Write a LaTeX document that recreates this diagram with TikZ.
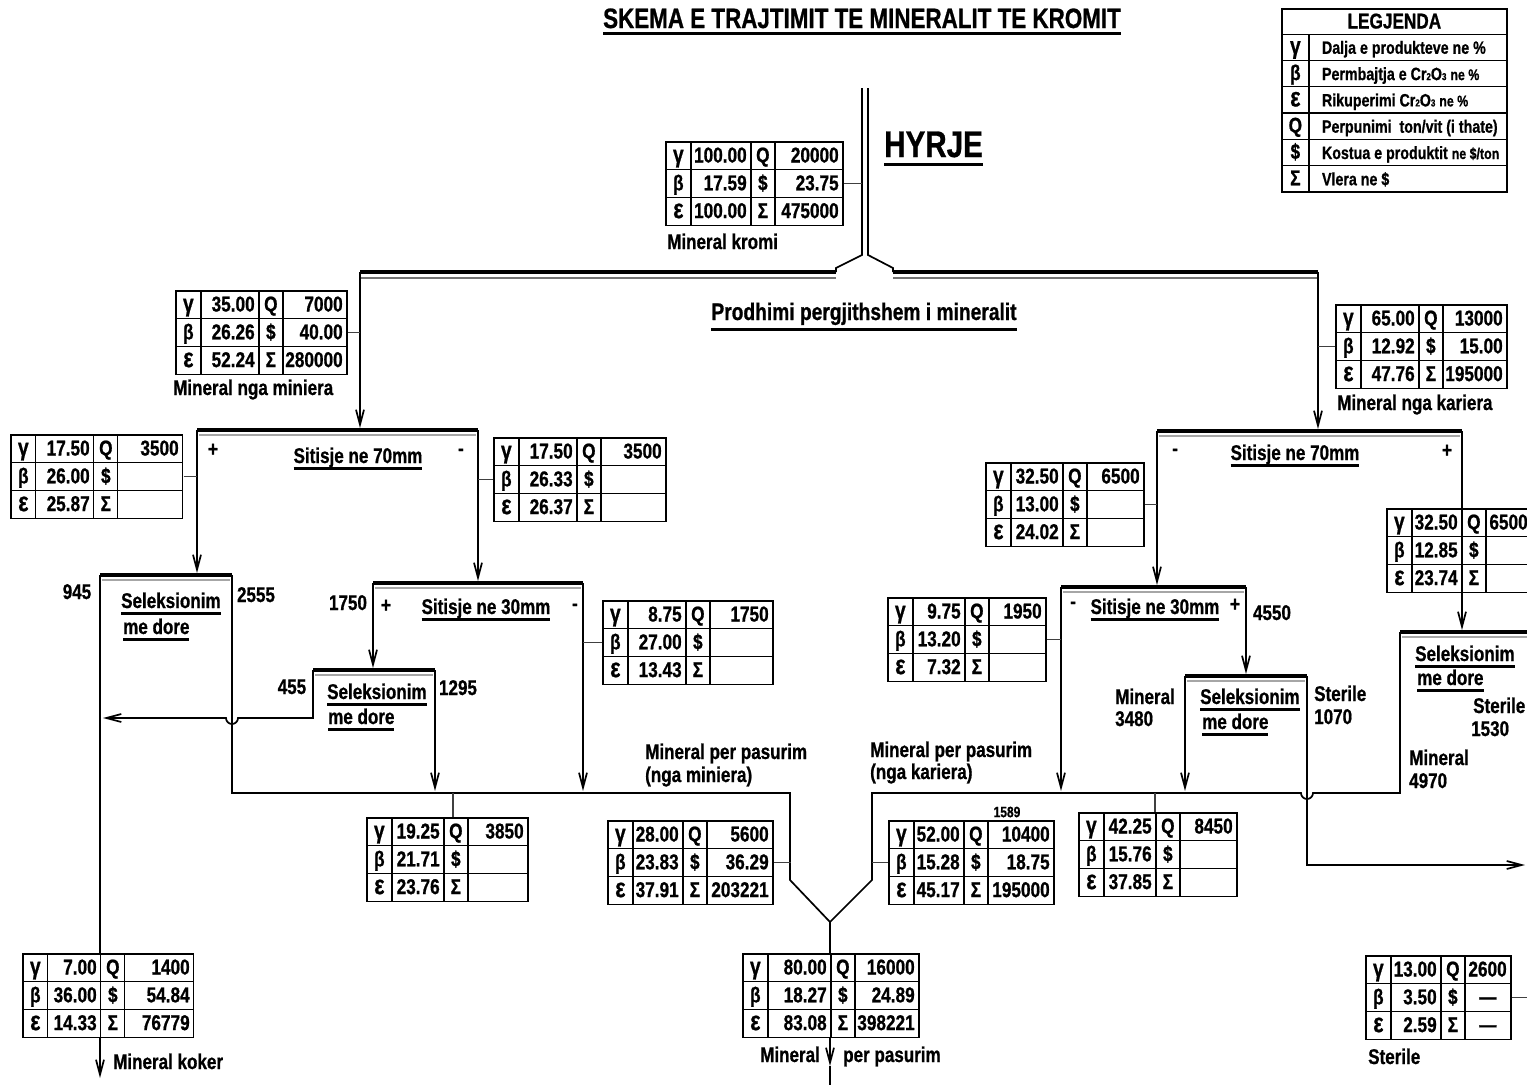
\documentclass[tikz,border=0pt]{standalone}
\usepackage{fontspec}
\setmainfont{Liberation Sans}[FakeStretch=0.8,BoldFeatures={FakeBold=0.8}]
\usepackage{array}
\usetikzlibrary{arrows.meta}

\setlength\tabcolsep{1.5pt}
\setlength\arrayrulewidth{1.3pt}
\renewcommand\arraystretch{0.5}
\newcolumntype{C}[1]{>{\centering\arraybackslash\rule[-6.5pt]{0pt}{26.5pt}}p{\dimexpr#1pt-2\tabcolsep-\arrayrulewidth\relax}}
\newcolumntype{R}[1]{>{\raggedleft\arraybackslash}p{\dimexpr#1pt-2\tabcolsep-\arrayrulewidth\relax}<{\leavevmode\kern2pt}}
\newcolumntype{S}[1]{>{\centering\arraybackslash\rule[-6pt]{0pt}{25pt}}p{\dimexpr#1pt-2\tabcolsep-\arrayrulewidth\relax}}
\newcolumntype{L}[1]{>{\raggedright\arraybackslash\fontsize{17.8}{20}\selectfont\hspace*{11pt}}p{\dimexpr#1pt-2\tabcolsep-\arrayrulewidth\relax}}

\def\gam{{\fontsize{24}{24}\selectfont γ}}
\def\eps{{\fontsize{27}{27}\selectfont ε}}
\def\dash{\makebox[\linewidth]{—}}
\def\datatab#1#2#3#4#5#6#7#8{\begin{tabular}{|C{25}|R{#1}|C{24}|R{#2}|}\hline
\gam&#3&Q&#4\\\hline
β&#5&\$&#6\\\hline
\eps&#7&Σ&#8\\\hline\end{tabular}}
\newcommand\undl[2][7pt]{\setbox0\hbox{#2}\rlap{\rule[-#1]{\wd0}{2.6pt}}\box0}
\newcommand\subs[1]{{\fontsize{10}{10}\selectfont#1}}
\newcommand\lsm[1]{{\fontsize{15.5}{18}\selectfont#1}}
\newcommand\sitline[4]{\coordinate (#1a) at (#2,#4); \coordinate (#1b) at (#3,#4);
  \draw[screen] (#1a) -- (#1b);
  \draw[shade] ([shift={(2,5)}]#1a) -- ([shift={(-2,5)}]#1b);}

\tikzset{
  flow/.style={line width=1.7pt},
  arr/.style={flow,-{Straight Barb[length=15pt,width=8pt]}},
  tie/.style={line width=1.2pt,black!75},
  screen/.style={line width=3.6pt},
  shade/.style={line width=1.6pt,black!35},
  tab/.style={inner sep=0pt,anchor=north west,fill=white,font=\fontsize{21.5}{24}\selectfont\bfseries},
  lbl/.style={inner sep=0pt,anchor=base west,font=\fontsize{21.3}{24}\selectfont\bfseries},
  sml/.style={lbl,anchor=center,font=\fontsize{15}{18}\selectfont\bfseries}
}

\begin{document}
\begin{tikzpicture}[x=1pt,y=-1pt]
%%%%% START %%%%%
\useasboundingbox (0,0) rectangle (1527,1085);
\fill[white] (0,0) rectangle (1527,1085);
\clip (0,0) rectangle (1527,1085);

% titulli dhe legjenda
\node[lbl,anchor=base,font=\fontsize{28}{32}\selectfont\bfseries] (titulli) at (862,28) {\undl{SKEMA E TRAJTIMIT TE MINERALIT TE KROMIT}};
\node[tab] (legjenda) at (1281,8) {\begin{tabular}{|S{27}|L{198}|}\hline
\multicolumn{2}{|c|}{\rule[-5pt]{0pt}{24pt}LEGJENDA}\\\hline
\gam & Dalja e produkteve ne \%\\\hline
β & Permbajtja e Cr\subs{2}O\subs{3} \lsm{ne \%}\\\hline
\eps & Rikuperimi Cr\subs{2}O\subs{3} \lsm{ne \%}\\\hline
Q & Perpunimi\ \ ton/vit (i thate)\\\hline
\$ & Kostua e produktit \lsm{ne \$/ton}\\\hline
Σ & Vlera ne \$\\\hline
\end{tabular}};

% hyrja
\coordinate (inL) at (862,88);
\coordinate (inR) at (868,88);
\draw[flow] (inL) -- (862,255) -- (836,268) -- (836,272);
\draw[flow] (inR) -- (868,255) -- (893,268) -- (893,272);
\node[lbl,font=\fontsize{37}{40}\selectfont\bfseries] (hyrje) at (884,157) {\undl[9pt]{HYRJE}};
\node[lbl] (kromiTxt) at (667,249) {Mineral kromi};

% prodhimi
\coordinate (mL) at (360,272);
\coordinate (kR) at (1318,272);
\draw[screen] (mL) -- (836,272);
\draw[screen] (893,272) -- (kR);
\draw[shade,black!55] (360,278) -- (836,278);
\draw[shade,black!55] (893,278) -- (1318,278);
\node[lbl,anchor=base,font=\fontsize{24}{28}\selectfont\bfseries] (prodhimi) at (864,320) {\undl[11pt]{Prodhimi pergjithshem i mineralit}};
\draw[arr] (mL) -- (360,428);
\draw[arr] (kR) -- (1318,429);
\node[lbl] (minieraTxt) at (173,395) {Mineral nga miniera};
\node[lbl] (karieraTxt) at (1337,410) {Mineral nga kariera};

% miniera: sitisje 70mm
\sitline{m70}{197}{478}{430}
\draw[arr] (m70a) -- ++(0,143);
\draw[arr] (m70b) -- ++(0,151);
\node[lbl,anchor=center] at (213,450) {+};
\node[lbl,anchor=center] at (461,452) {-};
\node[lbl,anchor=base] at (358,463) {\undl{Sitisje ne 70mm}};

% miniera: seleksionim
\sitline{ms1}{100}{232}{575}
\node[lbl,anchor=base] at (77,599) {945};
\node[lbl,anchor=base] at (256,602) {2555};
\node[lbl] at (121,608) {\undl{Seleksionim}};
\node[lbl] at (123,634) {\undl{me dore}};
\draw[arr] (ms1a) -- (100,1078);
\node[lbl] (kokerTxt) at (113,1069) {Mineral koker};

% miniera: sitisje 30mm
\sitline{m30}{373}{583}{583}
\draw[arr] (m30a) -- ++(0,85);
\draw[arr] (m30b) -- ++(0,208);
\node[lbl,anchor=base] at (348,610) {1750};
\node[lbl,anchor=center] at (386,606) {+};
\node[lbl,anchor=base] at (486,614) {\undl{Sitisje ne 30mm}};
\node[lbl,anchor=center] at (575,607) {-};

% miniera: seleksionim i dyte
\sitline{ms2}{313}{435}{670}
\draw[arr] (ms2a) -- (313,718) -- (238,718) arc (0:180:6) -- (103,718);
\draw[arr] (ms2b) -- ++(0,121);
\node[lbl,anchor=base] at (292,694) {455};
\node[lbl,anchor=base] at (458,695) {1295};
\node[lbl] at (327,699) {\undl{Seleksionim}};
\node[lbl] at (328,724) {\undl{me dore}};

% mineral per pasurim
\draw[flow] (ms1b) -- (232,793) -- (790,793) -- (790,880) -- (830,922);
\draw[tie] (453,793) -- (453,817);
\node[lbl] at (645,759) {Mineral per pasurim};
\node[lbl] at (645,782) {(nga miniera)};
\node[lbl] at (870,757) {Mineral per pasurim};
\node[lbl] at (870,779) {(nga kariera)};
\node[sml] at (1007,812) {1589};
\draw[arr] (830,922) -- (830,1066);
\draw[flow] (830,1066) -- (830,1085);
\node[lbl] at (760,1062) {Mineral};
\node[lbl] at (843,1062) {per pasurim};

% kariera: sitisje 70mm
\sitline{k70}{1157}{1462}{431}
\draw[arr] (k70a) -- ++(0,154);
\draw[arr] (k70b) -- ++(0,199);
\node[lbl,anchor=center] at (1175,452) {-};
\node[lbl,anchor=base] at (1295,460) {\undl{Sitisje ne 70mm}};
\node[lbl,anchor=center] at (1447,451) {+};

% kariera: sitisje 30mm
\sitline{k30}{1061}{1246}{587}
\draw[arr] (k30a) -- ++(0,204);
\draw[arr] (k30b) -- ++(0,87);
\node[lbl,anchor=center] at (1073,605) {-};
\node[lbl,anchor=base] at (1155,614) {\undl{Sitisje ne 30mm}};
\node[lbl,anchor=center] at (1235,605) {+};
\node[lbl,anchor=base] at (1272,620) {4550};

% kariera: seleksionim
\sitline{ks1}{1185}{1307}{676}
\draw[arr] (ks1a) -- ++(0,115);
\draw[arr] (ks1b) -- (1307,865) -- (1525,865);
\node[lbl] at (1115,704) {Mineral};
\node[lbl] at (1115,726) {3480};
\node[lbl] at (1200,704) {\undl{Seleksionim}};
\node[lbl] at (1202,729) {\undl{me dore}};
\node[lbl] at (1314,701) {Sterile};
\node[lbl] at (1314,724) {1070};

\sitline{ks2}{1400}{1540}{632}
\node[lbl] at (1415,661) {\undl{Seleksionim}};
\node[lbl] at (1417,685) {\undl{me dore}};
\node[lbl] at (1473,713) {Sterile};
\node[lbl] at (1471,736) {1530};
\node[lbl] at (1409,765) {Mineral};
\node[lbl] at (1409,788) {4970};
\draw[flow] (830,922) -- (872,880) -- (872,793) -- (1301,793) arc (180:0:6) -- (1400,793) -- (ks2a);
\draw[tie] (1155,793) -- (1155,812);
\node[lbl] (sterileTxt) at (1368,1064) {Sterile};

% tabelat
\node[tab] (kromi) at (665,141) {\datatab{60}{68}{100.00}{20000}{17.59}{23.75}{100.00}{475000}};
\node[tab] (miniera) at (175,290) {\datatab{58}{64}{35.00}{7000}{26.26}{40.00}{52.24}{280000}};
\node[tab] (kariera) at (1335,304) {\datatab{58}{64}{65.00}{13000}{12.92}{15.00}{47.76}{195000}};
\node[tab] (m70p) at (10,434) {\datatab{58}{65}{17.50}{3500}{26.00}{}{25.87}{}};
\node[tab] (m70m) at (493,437) {\datatab{58}{65}{17.50}{3500}{26.33}{}{26.37}{}};
\node[tab] (m30m) at (602,600) {\datatab{58}{63}{8.75}{1750}{27.00}{}{13.43}{}};
\node[tab] (msel) at (366,817) {\datatab{52}{60}{19.25}{3850}{21.71}{}{23.76}{}};
\node[tab] (mpas) at (607,820) {\datatab{50}{66}{28.00}{5600}{23.83}{36.29}{37.91}{203221}};
\node[tab] (kpas) at (888,820) {\datatab{50}{66}{52.00}{10400}{15.28}{18.75}{45.17}{195000}};
\node[tab] (ksel) at (1078,812) {\datatab{52}{57}{42.25}{8450}{15.76}{}{37.85}{}};
\node[tab] (k70m) at (985,462) {\datatab{52}{57}{32.50}{6500}{13.00}{}{24.02}{}};
\node[tab] (k70p) at (1386,508) {\datatab{50}{46}{32.50}{6500}{12.85}{}{23.74}{}};
\node[tab] (k30m) at (887,597) {\datatab{52}{57}{9.75}{1950}{13.20}{}{7.32}{}};
\node[tab] (koker) at (22,953) {\datatab{53}{69}{7.00}{1400}{36.00}{54.84}{14.33}{76779}};
\node[tab] (pasurim) at (742,953) {\datatab{63}{64}{80.00}{16000}{18.27}{24.89}{83.08}{398221}};
\node[tab] (sterile) at (1365,955) {\datatab{50}{46}{13.00}{2600}{3.50}{\dash}{2.59}{\dash}};

% lidhjet e tabelave
\draw[tie] (kromi.east) -- (kromi.east -| inL);
\draw[tie] (miniera.east) -- (miniera.east -| mL);
\draw[tie] (kariera.west) -- (kariera.west -| kR);
\draw[tie] (m70p.east) -- (m70p.east -| m70a);
\draw[tie] (m70m.west) -- (m70m.west -| m70b);
\draw[tie] (m30m.west) -- (m30m.west -| m30b);
\draw[tie] (mpas.east) -- ++(17,0);
\draw[tie] (kpas.west) -- ++(-16,0);
\draw[tie] (k70m.east) -- (k70m.east -| k70a);
\draw[tie] (k30m.east) -- (k30m.east -| k30a);
\draw[tie] (sterile.east) -- ++(30,0);
%%%%% END %%%%%
\end{tikzpicture}
\end{document}
